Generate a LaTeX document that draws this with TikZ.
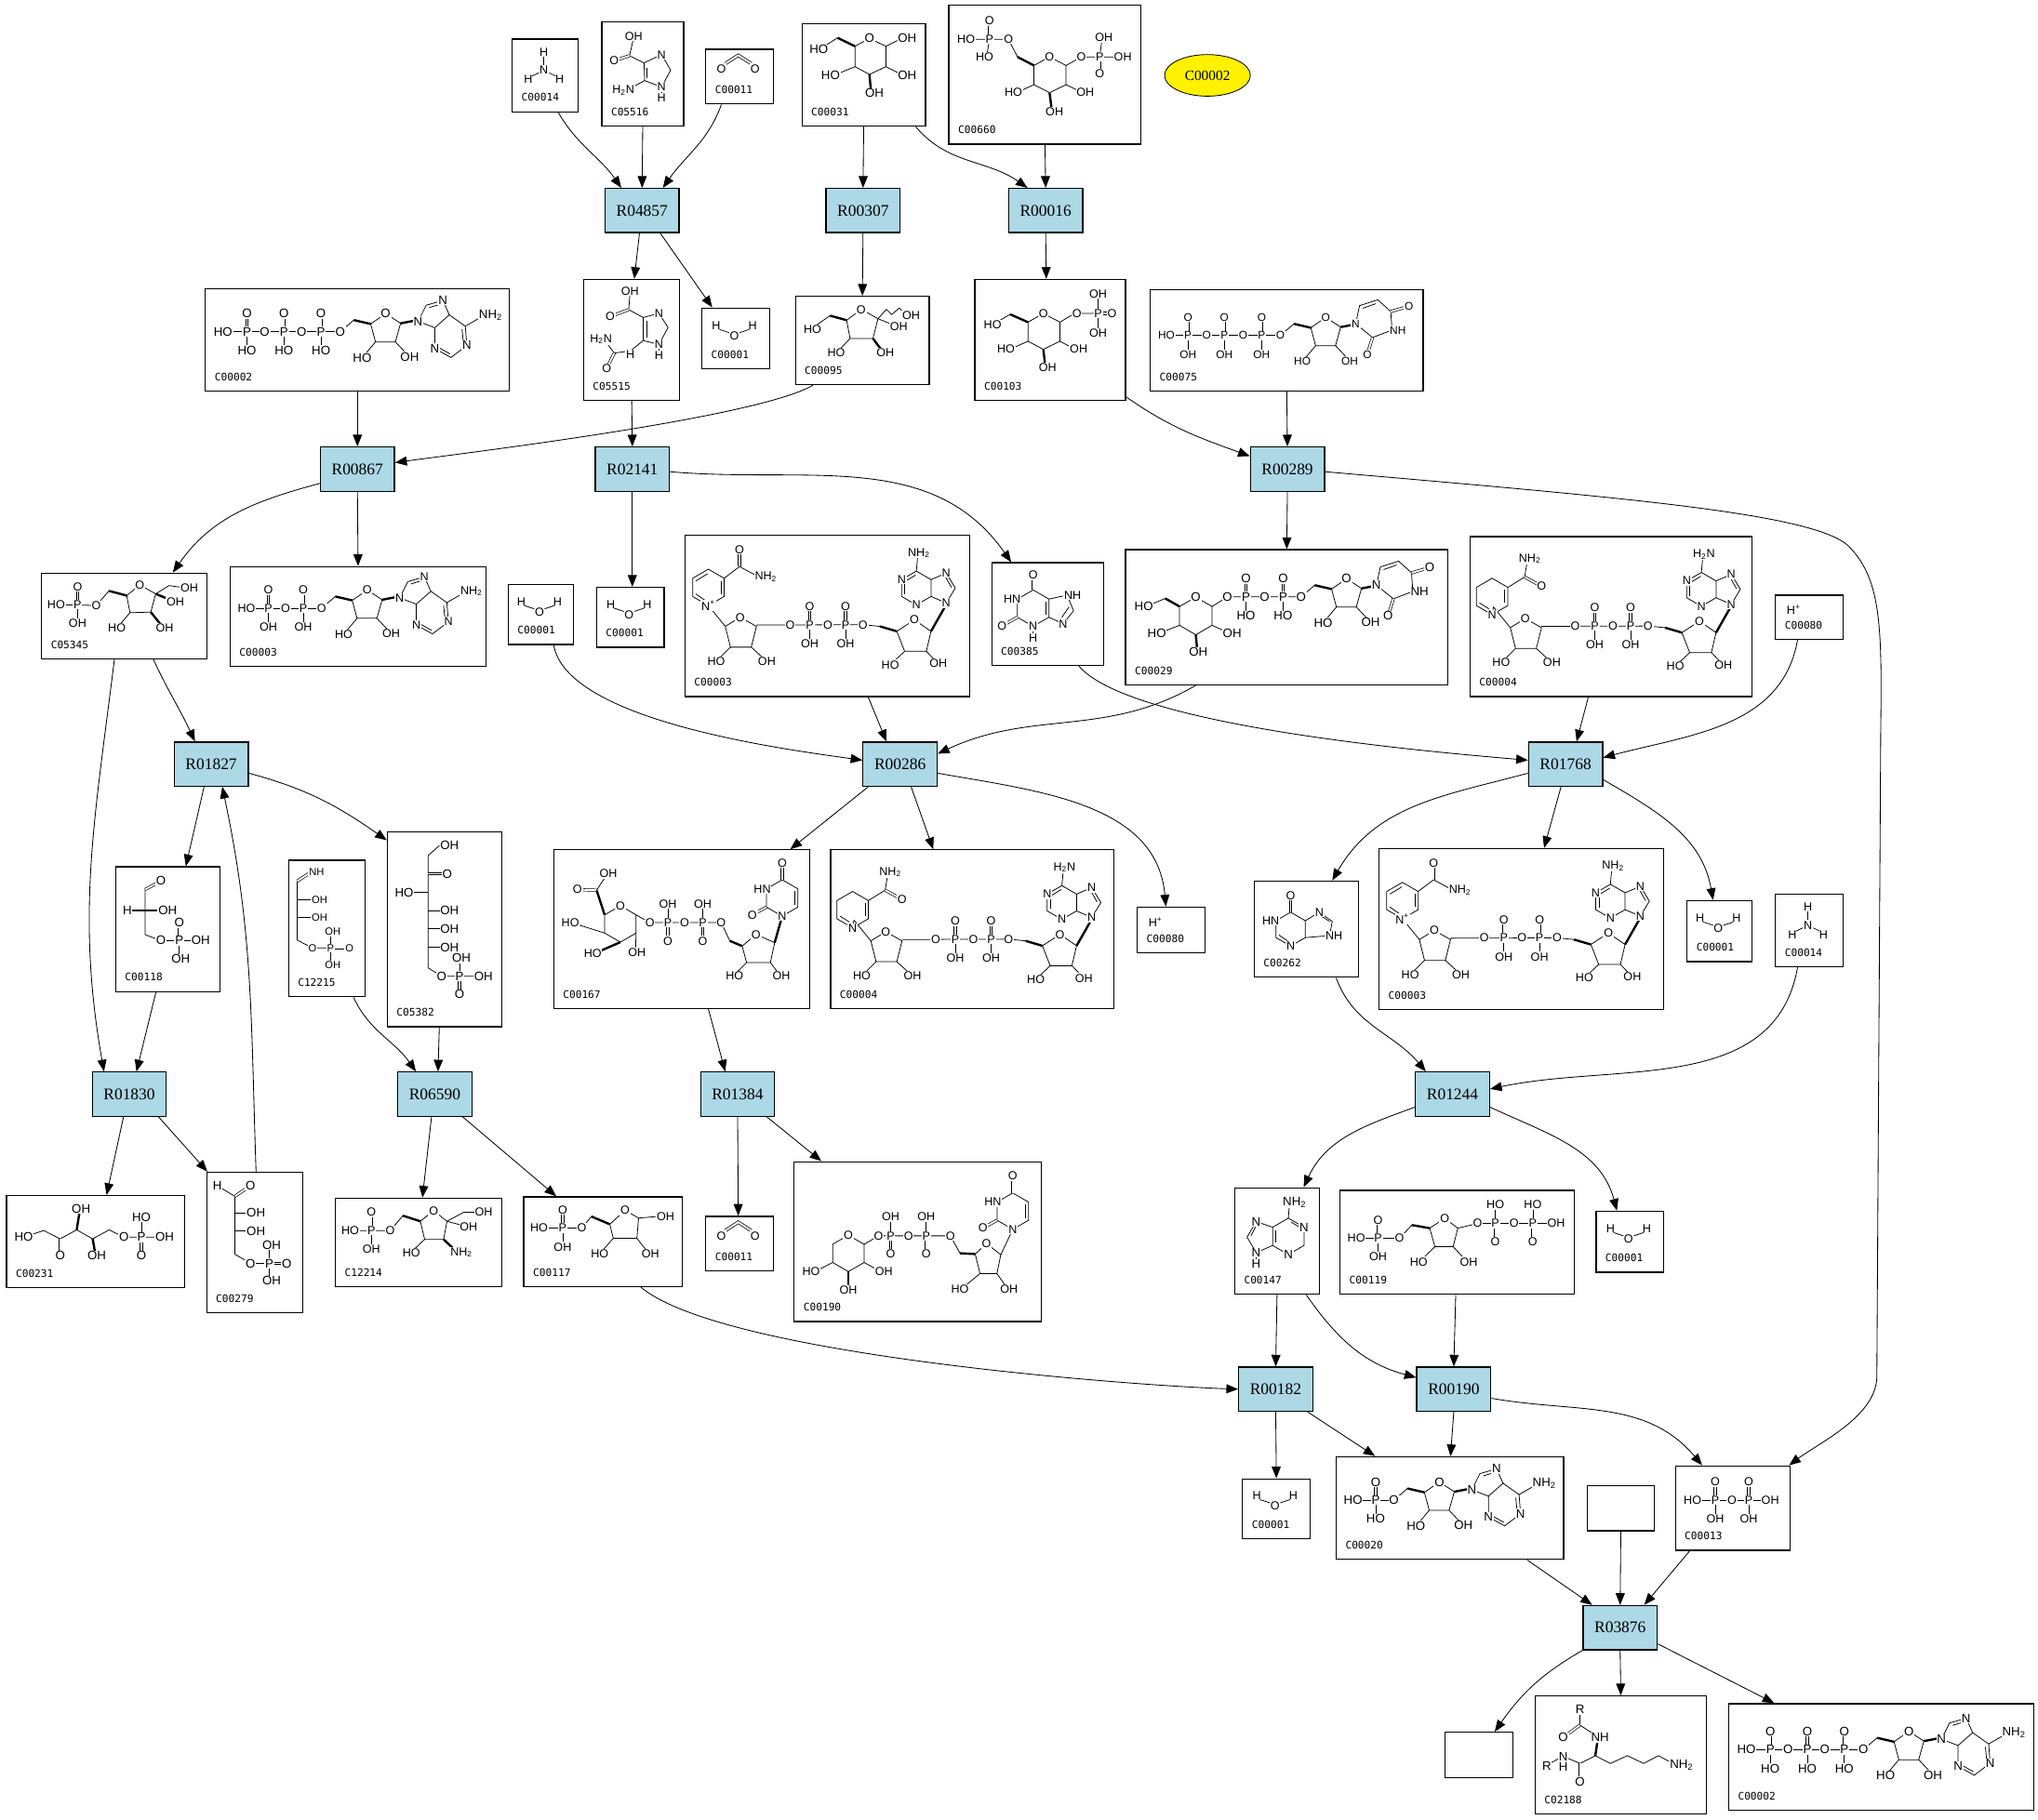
\documentclass[tikz,border=0pt]{standalone}
\usepackage{fontspec}
\setmainfont{Liberation Serif}
\setsansfont{Liberation Sans}
\setmonofont{DejaVu Sans Mono}
\usetikzlibrary{arrows.meta,shapes.geometric}
\definecolor{rxnblue}{RGB}{173,216,230}
\def\atmsz{9}
\newcommand\cpdbox[6]{%
  \node[cpd, minimum width={(#4-#2)*1pt}, minimum height={(#5-#3)*1pt}] (#1) at ({(#2+#4)/2},{-(#3+#5)/2}) {};%
  \node[idl] (#1-id) at ({#2+7},{-#5+8}) {#6};}
\newcommand\emptybox[5]{%
  \node[cpd, minimum width={(#4-#2)*1pt}, minimum height={(#5-#3)*1pt}] (#1) at ({(#2+#4)/2},{-(#3+#5)/2}) {};}
% atom label
\newcommand\At[3]{\node[atm] at (#1,#2) {#3};}
\newcommand\Ae[3]{\node[atm,anchor=east] at (#1,#2) {#3};}
\newcommand\Aw[3]{\node[atm,anchor=west] at (#1,#2) {#3};}
% phosphorus with double-bonded O on top and label below
\newcommand\PT[3]{\draw[dbl] (#1,#2) -- (#1,#2-13); \draw[bond] (#1,#2) -- (#1,#2+13);
  \At{#1}{#2-14}{O}\At{#1}{#2+14.5}{#3}\At{#1}{#2}{P}}
% phosphorus with label on top and double-bonded O below
\newcommand\PB[3]{\draw[bond] (#1,#2) -- (#1,#2-13); \draw[dbl] (#1,#2) -- (#1,#2+13);
  \At{#1}{#2-14.5}{#3}\At{#1}{#2+14}{O}\At{#1}{#2}{P}}
% horizontal ribose, origin = O5'
\newcommand\RiboseH[2]{\begin{scope}[shift={(#1,#2)}]
  \draw[bond] (0,0) -- (10.5,-9);
  \draw[wdg] (10.5,-9) -- (23.5,-6);
  \draw[bond] (23.5,-6) -- (35,-14) -- (46.5,-6.5) -- (42.5,7.8) -- (27.2,7.8) -- cycle;
  \draw[bond] (27.2,7.8) -- (17,20);
  \draw[bond] (42.5,7.8) -- (53.5,19.5);
  \draw[wdg] (46.5,-6.5) -- (57,-8.5);
  \At{35}{-14}{O}\At{17}{20}{HO}\At{53.5}{19.5}{OH}
  \end{scope}}
% horizontal adenine, origin = N9
\newcommand\AdenineH[2]{\begin{scope}[shift={(#1,#2)}]
  \draw[bond] (0,0) -- (6.2,-12.4) -- (19,-16.1) -- (24,-5) -- (12.8,4.9) -- cycle;
  \draw[bond] (8.6,-10.6) -- (17,-13.2);
  \draw[bond] (12.8,4.9) -- (12.8,20.9) -- (25.2,27.8) -- (37.5,18.5) -- (36.3,3.7) -- (24,-5);
  \draw[bond] (15.5,20) -- (24.5,25);
  \draw[bond] (33.8,6) -- (34.8,16.5);
  \draw[bond] (36.3,3.7) -- (48,-3);
  \At{0}{0}{N}\At{19}{-16.1}{N}\At{12.8}{20.9}{N}\At{37.5}{18.5}{N}
  \Aw{46}{-5}{NH\textsubscript{2}}
  \end{scope}}
% horizontal uracil, origin = N1
\newcommand\UracilH[2]{\begin{scope}[shift={(#1,#2)}]
  \draw[bond] (0,0) -- (3,-14) -- (17,-18.5) -- (27,-9.5) -- (28,4.8) -- (13,10.5) -- cycle;
  \draw[bond] (5.5,-12) -- (15.5,-15.5);
  \draw[dbl] (27,-9.5) -- (41,-13.5);
  \draw[dbl] (13,10.5) -- (9,23.5);
  \At{0}{0}{N}\At{41}{-13.5}{O}\Aw{25.5}{4.8}{NH}\At{9}{23.5}{O}
  \end{scope}}
% upright uracil (N1 at bottom), origin = ring centre
\newcommand\UracilV[2]{\begin{scope}[shift={(#1,#2)}]
  \draw[bond] (0,14) -- (-12.1,7) -- (-12.1,-7) -- (0,-14) -- (12.1,-7) -- (12.1,7) -- cycle;
  \draw[bond] (9.6,-5.5) -- (9.6,5.5);
  \draw[dbl] (0,-14) -- (0,-27);
  \draw[dbl] (-12.1,7) -- (-23,13);
  \At{0}{14}{N}\Ae{-8}{-7}{HN}\At{0}{-27}{O}\At{-23}{13}{O}
  \end{scope}}
% upright adenine, origin = 6-ring centre
\newcommand\AdenineV[3]{\begin{scope}[shift={(#1,#2)}]
  \draw[bond] (0,-13) -- (11.3,-6.5) -- (11.3,6.5) -- (0,13) -- (-11.3,6.5) -- (-11.3,-6.5) -- cycle;
  \draw[bond] (11.3,-6.5) -- (23,-11.5) -- (30,0) -- (23,11.5) -- (11.3,6.5);
  \draw[bond] (-8.8,-5) -- (-0.5,-10);
  \draw[bond] (-8.8,5) -- (-8.8,-5);
  \draw[bond] (22.5,-8.5) -- (27,-0.5);
  \draw[bond] (0,-13) -- (1,-24);
  \At{-11.3}{-6.5}{N}\At{0}{13}{N}\At{23}{-11.5}{N}\At{23}{11.5}{N}\At{2}{-27}{#3}
  \end{scope}}
% NAD-type dinucleotide (box-local coordinates)
\newcommand\NADbody{%
  \draw[bond] (18,54) -- (31,70);
  \draw[bond] (31,70) -- (42.5,63) -- (55,70) -- (51,86) -- (35,86) -- cycle;
  \draw[bond] (35,86) -- (24,97); \draw[bond] (51,86) -- (63,97);
  \draw[bond] (55,69) -- (137,68.7);
  \draw[bond] (137,68.7) -- (150,70);
  \draw[wdg] (150,70) -- (163,73.8);
  \draw[bond] (163,73.8) -- (176.5,65) -- (189.3,73.8) -- (185.7,89.2) -- (169,89.2) -- cycle;
  \draw[bond] (169,89.2) -- (158,99.5); \draw[bond] (185.7,89.2) -- (194.9,98.7);
  \draw[wdg] (189.3,73.8) -- (200,55);
  \PT{96}{68.7}{OH}\PT{123.5}{68.7}{OH}
  \At{42.5}{63}{O}\At{24}{97}{HO}\At{63}{97}{OH}
  \At{81}{68.7}{O}\At{110}{68.7}{O}\At{137}{68.7}{O}
  \At{176.5}{65}{O}\At{158}{99.5}{HO}\At{194.9}{98.7}{OH}}
\tikzset{
  rxn/.style={draw, line width=0.9pt, fill=rxnblue, minimum width=57pt, minimum height=34pt, inner sep=0pt, font=\fontsize{12.5}{12.5}\selectfont},
  cpd/.style={draw, line width=0.9pt, inner sep=0pt},
  idl/.style={font=\fontsize{8}{8}\ttfamily, inner sep=0pt, anchor=base west},
  atm/.style={font=\fontsize{\atmsz}{\atmsz}\sffamily, inner sep=0.6pt, fill=white},
  bond/.style={line width=0.55pt},
  dbl/.style={line width=0.5pt, double, double distance=1.3pt},
  wdg/.style={line width=1.7pt},
  arr/.style={-{Triangle[length=9pt,width=7pt]}, line width=0.6pt},
  mol/.style 2 args={shift={(#1,-#2)}, y=-1pt},
  water/.pic={
    \node[atm] at (-14,8) {H};
    \node[atm] at (0,0) {O};
    \node[atm] at (14,8) {H};
    \draw[bond] (-11.5,5) -- (-4,2.5);
    \draw[bond] (4,2.5) -- (11.5,5);
  },
  ammonia/.pic={
    \node[atm] at (0,14) {H};
    \node[atm] at (0,0) {N};
    \node[atm] at (-12,-7) {H};
    \node[atm] at (12,-7) {H};
    \draw[bond] (0,10.5) -- (0,4);
    \draw[bond] (-9,-4.5) -- (-4,-2);
    \draw[bond] (4,-2) -- (9,-4.5);
  },
  cotwo/.pic={
    \draw[bond, double, double distance=1.4pt] (-10,4) -- (0,10.5) -- (10,4);
    \node[atm] at (-13,0) {O};
    \node[atm] at (13,0) {O};
  },
  hplus/.pic={
    \node[atm] at (0,0) {H\textsuperscript{+}};
  }
}
\begin{document}
\begin{tikzpicture}[x=1pt,y=1pt]
\useasboundingbox (0,0) rectangle (1568,-1400);
\fill[white] (0,0) rectangle (1568,-1400);

% ---------- reactions ----------
\node[rxn] (R04857) at (494,-162) {R04857};
\node[rxn] (R00307) at (664,-162) {R00307};
\node[rxn] (R00016) at (804.5,-162) {R00016};
\node[rxn] (R00867) at (275,-361) {R00867};
\node[rxn] (R02141) at (486.5,-361) {R02141};
\node[rxn] (R00289) at (990.5,-361) {R00289};
\node[rxn] (R01827) at (162.5,-588) {R01827};
\node[rxn] (R00286) at (692.5,-588) {R00286};
\node[rxn] (R01768) at (1204.5,-588) {R01768};
\node[rxn] (R01830) at (99.5,-842) {R01830};
\node[rxn] (R06590) at (334.5,-842) {R06590};
\node[rxn] (R01384) at (567.5,-842) {R01384};
\node[rxn] (R01244) at (1117.5,-842) {R01244};
\node[rxn] (R00182) at (981.5,-1069) {R00182};
\node[rxn] (R00190) at (1118.5,-1069) {R00190};
\node[rxn] (R03876) at (1246.5,-1252.5) {R03876};

\node[ellipse, draw, line width=0.6pt, fill=yellow, minimum width=66pt, minimum height=32pt, inner sep=0pt, font=\fontsize{11}{11}\selectfont] (C00002e) at (929,-58) {C00002};

% ---------- compounds ----------
\cpdbox{c14a}{394}{30}{445}{86}{C00014}
\cpdbox{c5516}{463}{17}{526}{97}{C05516}
\cpdbox{c11a}{543}{38}{595}{80}{C00011}
\cpdbox{c31}{617}{18}{712}{97}{C00031}
\cpdbox{c660}{730}{4}{878}{111}{C00660}
\cpdbox{c02a}{158}{222}{392}{301}{C00002}
\cpdbox{c5515}{449}{215}{523}{308}{C05515}
\cpdbox{c01a}{540}{237}{592}{284}{C00001}
\cpdbox{c95}{612}{228}{715}{296}{C00095}
\cpdbox{c103}{750}{215}{866}{308}{C00103}
\cpdbox{c75}{885}{223}{1095}{301}{C00075}
\cpdbox{c5345}{32}{441}{159}{507}{C05345}
\cpdbox{c03a}{177}{436}{374}{513}{C00003}
\cpdbox{c01b}{391}{450}{441}{496}{C00001}
\cpdbox{c01c}{459}{452}{511}{498}{C00001}
\cpdbox{c03b}{527}{412}{746}{536}{C00003}
\cpdbox{c385}{763}{433}{849}{512}{C00385}
\cpdbox{c29}{866}{423}{1114}{527}{C00029}
\cpdbox{c04a}{1131}{413}{1348}{536}{C00004}
\cpdbox{c80a}{1366}{458}{1418}{492}{C00080}
\cpdbox{c118}{89}{667}{169}{763}{C00118}
\cpdbox{c12215}{222}{662}{281}{767}{C12215}
\cpdbox{c5382}{298}{640}{386}{790}{C05382}
\cpdbox{c167}{426}{654}{623}{776}{C00167}
\cpdbox{c04b}{639}{654}{857}{776}{C00004}
\cpdbox{c80b}{875}{698}{927}{733}{C00080}
\cpdbox{c262}{965}{678}{1045}{752}{C00262}
\cpdbox{c03c}{1061}{653}{1280}{777}{C00003}
\cpdbox{c01d}{1298}{693}{1348}{740}{C00001}
\cpdbox{c14b}{1366}{688}{1418}{744}{C00014}
\cpdbox{c231}{5}{920}{142}{991}{C00231}
\cpdbox{c279}{159}{902}{233}{1010}{C00279}
\cpdbox{c12214}{258}{922}{386}{990}{C12214}
\cpdbox{c117}{403}{921}{525}{990}{C00117}
\cpdbox{c11b}{543}{936}{595}{978}{C00011}
\cpdbox{c190}{611}{894}{801}{1017}{C00190}
\cpdbox{c147}{950}{914}{1015}{996}{C00147}
\cpdbox{c119}{1031}{916}{1211}{996}{C00119}
\cpdbox{c01e}{1228}{932}{1280}{979}{C00001}
\cpdbox{c01f}{956}{1138}{1008}{1184}{C00001}
\cpdbox{c20}{1028}{1121}{1203}{1200}{C00020}
\emptybox{emp1}{1221}{1143}{1273}{1178}
\cpdbox{c13}{1289}{1128}{1377}{1193}{C00013}
\emptybox{emp2}{1112}{1333}{1164}{1368}
\cpdbox{c2188}{1181}{1305}{1313}{1396}{C02188}
\cpdbox{c02b}{1330}{1311}{1565}{1393}{C00002}

% ---------- structures ----------
\foreach \w in {c01a,c01b,c01c,c01d,c01e,c01f}{\pic at ([shift={(-1,2)}]\w.center) {water};}
\foreach \w in {c14a,c14b}{\pic at ([shift={(-1,4)}]\w.center) {ammonia};}
\foreach \w in {c11a,c11b}{\pic at ([shift={(-1,6)}]\w.center) {cotwo};}
\foreach \w in {c80a,c80b}{\pic at ([shift={(-12,6)}]\w.center) {hplus};}

% ATP (two copies)
\foreach \bx/\by in {1330/1311, 158/220}{
\begin{scope}[mol={\bx}{\by}]
  \def\atmsz{9.5}
  \draw[bond] (13.6,35.3) -- (103.7,35.3);
  \RiboseH{103.7}{35.3}
  \AdenineH{163.7}{27.3}
  \PT{32}{35.3}{HO}\PT{60.5}{35.3}{HO}\PT{89}{35.3}{HO}
  \At{13.6}{35.3}{HO}\At{45.7}{35.3}{O}\At{74}{35.3}{O}\At{103.7}{35.3}{O}
\end{scope}}
% pyrophosphate C00013
\begin{scope}[mol={1289}{1128}]
  \draw[bond] (13.2,26.3) -- (73,26.3);
  \PT{30.7}{26.3}{OH}\PT{56.4}{26.3}{OH}
  \At{13.2}{26.3}{HO}\At{43.5}{26.3}{O}\At{73}{26.3}{OH}
\end{scope}
% ADP-like C00003 (c03a)
\begin{scope}[mol={177}{436}]
  \draw[bond] (12.6,32) -- (70.5,32);
  \RiboseH{70.5}{32}
  \AdenineH{130.5}{24}
  \PT{29.5}{32}{OH}\PT{56.4}{32}{OH}
  \At{12.6}{32}{HO}\At{42.8}{32}{O}\At{70.5}{32}{O}
\end{scope}
% AMP
\begin{scope}[mol={1028}{1121}]
  \def\atmsz{9.5}
  \draw[bond] (13,33.4) -- (44.4,33.4);
  \RiboseH{44.4}{33.4}
  \AdenineH{104.4}{25.4}
  \PT{30.4}{33.4}{HO}
  \At{13}{33.4}{HO}\At{44.4}{33.4}{O}
\end{scope}
% UTP
\begin{scope}[mol={885}{223}]
  \def\atmsz{8.5}
  \draw[bond] (12.4,35.2) -- (100,35.2);
  \RiboseH{100}{35.2}
  \UracilH{158}{26.2}
  \PT{29}{35.2}{OH}\PT{57}{35.2}{OH}\PT{85.7}{35.2}{OH}
  \At{12.4}{35.2}{HO}\At{43.3}{35.2}{O}\At{71.4}{35.2}{O}\At{100}{35.2}{O}
\end{scope}
% UDP-glucose
\begin{scope}[mol={866}{423}]
  \def\atmsz{9.5}
  \draw[bond] (54,36.5) -- (66.5,43.7) -- (66.5,58.2) -- (54,65.5) -- (41.5,58.2) -- (41.5,43.7) -- cycle;
  \draw[wdg] (41.5,43.7) -- (30.5,37.5); \draw[bond] (30.5,37.5) -- (16,43.6);
  \draw[bond] (41.5,58.2) -- (26,64.2);
  \draw[bond] (66.5,58.2) -- (80,64.2);
  \draw[wdg] (54,65.5) -- (55,76);
  \draw[bond] (66.5,43.7) -- (78.3,36.3) -- (135,36.3);
  \RiboseH{135}{36.3}
  \UracilH{193}{27.3}
  \PT{92.6}{36.3}{HO}\PT{121.2}{36.3}{HO}
  \At{54}{36.5}{O}\At{14}{43.6}{HO}\At{24}{64.2}{HO}\At{82}{64.2}{OH}\At{56}{78.7}{OH}
  \At{78.3}{36.3}{O}\At{107}{36.3}{O}\At{135}{36.3}{O}
\end{scope}
% NAD+ (two copies)
\foreach \bx/\by in {527/412, 1061/653}{
\begin{scope}[mol={\bx}{\by}]
  \draw[bond] (18,26) -- (30.1,33) -- (30.1,47) -- (18,54) -- (5.9,47) -- (5.9,33) -- cycle;
  \draw[bond] (8.3,35) -- (17.5,29.5); \draw[bond] (27.7,35) -- (27.7,45); \draw[bond] (8.3,45) -- (15.5,50);
  \draw[bond] (30.1,33) -- (42,24); \draw[dbl] (42,24) -- (42,11); \draw[bond] (42,24) -- (55,31);
  \NADbody
  \AdenineV{178}{40.5}{NH\textsubscript{2}}
  \At{18}{54}{N\textsuperscript{+}}\At{42}{11}{O}\Aw{53}{32}{NH\textsubscript{2}}
\end{scope}}
% NADH (two copies)
\foreach \bx/\by in {639/654, 1131/413}{
\begin{scope}[mol={\bx}{\by}]
  \draw[bond] (17,32) -- (29.1,39) -- (29.1,53) -- (17,60) -- (4.9,53) -- (4.9,39) -- cycle;
  \draw[bond] (26.7,41) -- (26.7,51); \draw[bond] (7.3,51) -- (14.5,55.5);
  \draw[bond] (29.1,39) -- (42,31); \draw[bond] (42,31) -- (44,19); \draw[dbl] (42,31) -- (53,37);
  \draw[bond] (17,60) -- (18,54);
  \NADbody
  \AdenineV{178}{40.5}{H\textsubscript{2}N}
  \At{17}{60}{N}\At{46}{17}{NH\textsubscript{2}}\At{55}{38}{O}
\end{scope}}
% C00031 glucose
\begin{scope}[mol={617}{18}]
  \def\atmsz{9.5}
  \draw[bond] (40.8,17.6) -- (51.9,11.6) -- (64.6,17.6) -- (64.6,33.3) -- (51.9,39.3) -- (40.8,33.3) -- cycle;
  \draw[wdg] (40.8,17.6) -- (27.4,11.1); \draw[bond] (27.4,11.1) -- (15,19);
  \draw[bond] (64.6,17.6) -- (76,12); \draw[bond] (64.6,33.3) -- (76,39);
  \draw[wdg] (51.9,39.3) -- (53,51); \draw[bond] (40.8,33.3) -- (27,39);
  \At{51.9}{11.6}{O}\At{13}{20}{HO}\At{81}{11.6}{OH}\At{81}{39.7}{OH}\At{55.7}{53.7}{OH}\At{22}{39.7}{HO}
\end{scope}
% C00660
\begin{scope}[mol={730}{4}]
  \draw[bond] (13.3,26.2) -- (45.9,26.2) -- (52.8,39.8);
  \draw[dbl] (31.3,26.2) -- (31.3,11.9); \draw[bond] (31.3,26.2) -- (29,40);
  \draw[wdg] (52.8,39.8) -- (65.5,46.4);
  \draw[bond] (65.5,46.4) -- (77.5,39.8) -- (90.2,46.4) -- (90.2,61.2) -- (77.5,67.3) -- (65.5,61.2) -- cycle;
  \draw[bond] (90.2,46.4) -- (102,39.8) -- (133.9,39.8); \draw[bond] (116.1,39.8) -- (118,25); \draw[dbl] (116.1,39.8) -- (116.1,52.9);
  \draw[bond] (90.2,61.2) -- (103,67.3); \draw[wdg] (77.5,67.3) -- (79,79); \draw[bond] (65.5,61.2) -- (52,67.3);
  \At{13.3}{26.2}{HO}\At{31.3}{26.2}{P}\At{31.3}{11.9}{O}\At{27.5}{40}{HO}\At{45.9}{26.2}{O}
  \At{77.5}{39.8}{O}\At{102}{39.8}{O}\At{116.1}{39.8}{P}\At{119.3}{25}{OH}\At{133.9}{39.8}{OH}\At{116.1}{52.9}{O}
  \At{105}{67.3}{OH}\At{81.3}{82}{OH}\At{49.7}{67.3}{HO}
\end{scope}
% C00103
\begin{scope}[mol={750}{215}]
  \draw[bond] (40.9,32.9) -- (52.7,26.2) -- (65.5,32.9) -- (65.5,47.6) -- (52.7,53.8) -- (40.9,47.6) -- cycle;
  \draw[wdg] (40.9,32.9) -- (27.2,26.9); \draw[bond] (27.2,26.9) -- (15,34);
  \draw[bond] (65.5,32.9) -- (76.7,26.2) -- (94.9,26.2); \draw[dbl] (94.9,26.2) -- (104.5,26.2);
  \draw[bond] (94.9,11) -- (94.9,41.2);
  \draw[bond] (65.5,47.6) -- (77,53.8); \draw[wdg] (52.7,53.8) -- (54,65); \draw[bond] (40.9,47.6) -- (27,53.8);
  \At{52.7}{26.2}{O}\At{13.7}{35.2}{HO}\At{78.5}{26.2}{O}\At{94.9}{26.2}{P}\At{105.5}{26.2}{O}\At{94.9}{11}{OH}\At{94.9}{41.2}{OH}
  \At{79.9}{53.8}{OH}\At{56}{68.1}{OH}\At{24}{53.8}{HO}
\end{scope}
% C00095
\begin{scope}[mol={612}{228}]
  \draw[bond] (39.4,18.4) -- (50.6,10.1) -- (63.5,17.2) -- (59.6,32.5) -- (42,32.5) -- cycle;
  \draw[wdg] (39.4,18.4) -- (26.6,14.9); \draw[bond] (26.6,14.9) -- (15,23);
  \draw[bond] (63.5,17.2) -- (75,22); \draw[bond] (63.5,17.2) -- (70,10) -- (74,14) -- (80,9) -- (84,14);
  \draw[wdg] (59.6,32.5) -- (66,41); \draw[bond] (42,32.5) -- (34,41);
  \At{50.6}{10.1}{O}\At{13.1}{25.5}{HO}\At{79.5}{23.6}{OH}\At{89}{14.9}{OH}\At{69.2}{43.6}{OH}\At{31.4}{43.6}{HO}
\end{scope}
% C05345
\begin{scope}[mol={32}{441}]
  \draw[bond] (11.2,24.4) -- (42.1,24.9) -- (51.8,13.7);
  \draw[wdg] (51.8,13.7) -- (65.5,17.3);
  \draw[bond] (65.5,17.3) -- (75.6,9.1) -- (87.8,16) -- (84,30) -- (68,30.5) -- cycle;
  \draw[bond] (68,30.5) -- (59,41); \draw[wdg] (84,30) -- (92,40); \draw[wdg] (87.8,16) -- (100,21);
  \draw[bond] (87.8,16) -- (98,9.6) -- (108,11);
  \PT{27.7}{24.4}{OH}
  \At{11.2}{24.4}{HO}\At{42.1}{24.9}{O}\At{75.6}{9.1}{O}\At{57.9}{42.3}{HO}\At{94.7}{42.3}{OH}\At{103}{22.3}{OH}\At{113.7}{11.7}{OH}
\end{scope}
% C12214
\begin{scope}[mol={258}{922}]
  \draw[bond] (11.5,24.9) -- (42.3,24.9) -- (52,13.5);
  \draw[wdg] (52,13.5) -- (65.4,17.8);
  \draw[bond] (65.4,17.8) -- (75.6,9.6) -- (85.9,17.8) -- (83.3,31.7) -- (68.7,31.7) -- cycle;
  \draw[bond] (68.7,31.7) -- (60,40); \draw[wdg] (83.3,31.7) -- (92,40);
  \draw[bond] (85.9,17.8) -- (98,21); \draw[bond] (85.9,17.8) -- (98.7,10.9) -- (108,10.9);
  \PT{27.7}{24.9}{OH}
  \At{11.5}{24.9}{HO}\At{42.3}{24.9}{O}\At{75.6}{9.6}{O}\At{58.5}{41.9}{HO}\At{97}{41.9}{NH\textsubscript{2}}\At{102.6}{22.3}{OH}\At{114.1}{10.9}{OH}
\end{scope}
% C00117
\begin{scope}[mol={403}{921}]
  \draw[bond] (11.7,24) -- (44.7,24) -- (52,15.1);
  \draw[wdg] (52,15.1) -- (66.2,21.1);
  \draw[bond] (66.2,21.1) -- (77.9,10.3) -- (88.3,16.3) -- (87,31.9) -- (68.8,31.9) -- cycle;
  \draw[bond] (68.8,31.9) -- (60,42); \draw[bond] (87,31.9) -- (95,42); \draw[bond] (88.3,16.3) -- (103,15.1);
  \PT{29.9}{24}{OH}
  \At{11.7}{24}{HO}\At{44.7}{24}{O}\At{77.9}{10.3}{O}\At{58.4}{43.9}{HO}\At{97.4}{43.9}{OH}\At{109}{15.1}{OH}
\end{scope}
% C00119 PRPP
\begin{scope}[mol={1031}{916}]
  \draw[bond] (12.5,36.8) -- (45.7,36.8) -- (55.3,26.7);
  \draw[wdg] (55.3,26.7) -- (69,29.1);
  \draw[bond] (69,29.1) -- (80.5,21.5) -- (90.6,29.1) -- (87,43.4) -- (73,43.4) -- cycle;
  \draw[bond] (73,43.4) -- (63,53); \draw[bond] (87,43.4) -- (96,53);
  \draw[bond] (90.6,29.1) -- (105.8,25.5) -- (166.3,25.5);
  \PT{29.3}{36.8}{OH}\PB{119.5}{25.5}{HO}\PB{148.3}{25.5}{HO}
  \At{12.5}{36.8}{HO}\At{45.7}{36.8}{O}\At{80.5}{21.5}{O}\At{60.6}{54.9}{HO}\At{99}{54.9}{OH}
  \At{105.8}{25.5}{O}\At{133.9}{25.5}{O}\At{166.3}{25.5}{OH}
\end{scope}
% C00190 UDP-xylose
\begin{scope}[mol={611}{894}]
  \draw[bond] (41.7,56.5) -- (53.8,63.5) -- (53.8,77.5) -- (41.7,84.5) -- (29.6,77.5) -- (29.6,63.5) -- cycle;
  \draw[bond] (29.6,77.5) -- (17,84); \draw[bond] (53.8,77.5) -- (66,84); \draw[wdg] (41.7,84.5) -- (41.7,95);
  \draw[bond] (53.8,63.5) -- (65,57) -- (120.3,57) -- (127.6,70.4);
  \draw[wdg] (127.6,70.4) -- (139.3,71);
  \draw[bond] (139.3,71) -- (148,63) -- (159,71.5) -- (156,86) -- (143,86) -- cycle;
  \draw[bond] (143,86) -- (131,96); \draw[bond] (156,86) -- (163,96);
  \draw[bond] (159,71.5) -- (168.2,52);
  \PB{74.2}{57}{OH}\PB{101.6}{57}{OH}
  \UracilV{168.2}{38}
  \At{41.7}{56.5}{O}\At{13}{84.1}{HO}\At{69}{84.1}{OH}\At{41.7}{99}{OH}
  \At{65}{57}{O}\At{88}{57}{O}\At{120.3}{57}{O}\At{148}{63}{O}\At{127.6}{97.8}{HO}\At{165.4}{97.8}{OH}
\end{scope}
% C00167 UDP-glucuronate
\begin{scope}[mol={426}{654}]
  \draw[bond] (51.3,43) -- (63.4,50) -- (63.4,64) -- (51.3,71) -- (39.2,64) -- (39.2,50) -- cycle;
  \draw[wdg] (39.2,50) -- (33,31); \draw[dbl] (33,31) -- (18.3,30.6); \draw[bond] (33,31) -- (41,19);
  \draw[bond] (39.2,64) -- (17,57); \draw[wdg] (51.3,71) -- (33,79); \draw[bond] (63.4,64) -- (63,76);
  \draw[bond] (63.4,50) -- (74,56) -- (128.9,56) -- (135.5,70);
  \draw[wdg] (135.5,70) -- (145,74);
  \draw[bond] (145,74) -- (155.7,65) -- (170,71.4) -- (166.7,86.7) -- (148.4,86.7) -- cycle;
  \draw[bond] (148.4,86.7) -- (140,95); \draw[bond] (166.7,86.7) -- (173,95);
  \draw[wdg] (170,71.4) -- (175.8,51);
  \PB{87.9}{56}{OH}\PB{114.7}{56}{OH}
  \UracilV{175.8}{37}
  \At{51.3}{43}{O}\At{18.3}{30.6}{O}\At{42.1}{18.4}{OH}\At{12.8}{56}{HO}\At{30}{80}{HO}\At{64}{79}{OH}
  \At{74}{56}{O}\At{100.7}{56}{O}\At{128.9}{56}{O}\At{155.7}{65}{O}\At{139.2}{97}{HO}\At{175.2}{97}{OH}
\end{scope}
% C00118
\begin{scope}[mol={89}{667}]
  \def\atmsz{9.5}
  \draw[dbl] (22.6,17.5) -- (34.9,11);
  \draw[bond] (22.6,17.5) -- (22.6,52.2) -- (34.9,56.8) -- (65.4,56.8);
  \draw[wdg] (22.6,33.7) -- (10,33.7); \draw[wdg] (22.6,33.7) -- (35,33.7);
  \draw[dbl] (48.9,56.8) -- (48.9,43.2); \draw[bond] (48.9,56.8) -- (48.9,71);
  \At{34.9}{11}{O}\At{8.9}{33.7}{H}\At{40}{33.7}{OH}\At{34.9}{56.8}{O}\At{48.9}{56.8}{P}\At{48.9}{43.2}{O}\At{65.4}{56.8}{OH}\At{50}{71}{OH}
\end{scope}
% C12215
\begin{scope}[mol={222}{662}]
  \def\atmsz{8}
  \draw[dbl] (6.6,16.1) -- (17,9.2);
  \draw[bond] (6.6,16.1) -- (6.6,61.4) -- (18.5,67.5) -- (32.3,67.5);
  \draw[bond] (6.6,30.2) -- (18,30.2); \draw[bond] (6.6,44) -- (18,44);
  \draw[bond] (32.3,55) -- (32.3,80.8); \draw[dbl] (32.3,67.5) -- (46.8,67.5);
  \Aw{15}{9.2}{NH}\Aw{17}{30.2}{OH}\Aw{17}{44}{OH}\At{18.5}{67.5}{O}\At{32.3}{67.5}{P}\At{34}{55}{OH}\At{46.8}{67.5}{O}\At{34}{80.8}{OH}
\end{scope}
% C05382
\begin{scope}[mol={298}{640}]
  \def\atmsz{9.5}
  \draw[bond] (31.4,18.3) -- (40,10.7); \draw[bond] (31.4,18.3) -- (31.4,104.8) -- (41.7,111.2) -- (74,111.2);
  \draw[dbl] (31.4,32.3) -- (44.5,32.3); \draw[bond] (31.4,46.8) -- (13,46.8);
  \draw[bond] (31.4,60.8) -- (42,60.8); \draw[bond] (31.4,74.8) -- (42,74.8); \draw[bond] (31.4,89) -- (42,89);
  \draw[bond] (55.5,111.2) -- (55.5,97.2); \draw[dbl] (55.5,111.2) -- (55.5,125.2);
  \Aw{40}{10.7}{OH}\At{46}{32.3}{O}\At{13}{46.8}{HO}\Aw{40}{60.8}{OH}\Aw{40}{74.8}{OH}\Aw{40}{89}{OH}
  \At{41.7}{111.2}{O}\At{55.5}{111.2}{P}\At{57}{97.2}{OH}\At{74}{111.2}{OH}\At{55.5}{125.2}{O}
\end{scope}
% C00231
\begin{scope}[mol={5}{920}]
  \def\atmsz{9.5}
  \draw[bond] (13.3,32) -- (28.6,26.9) -- (41.3,33.3) -- (54,26.4) -- (66.3,33.3) -- (79,26.4) -- (90.3,32) -- (121.7,32);
  \draw[dbl] (41.3,33.3) -- (41.3,46.2); \draw[wdg] (54,26.4) -- (56,14); \draw[wdg] (66.3,33.3) -- (68,43);
  \draw[bond] (103.8,32) -- (103.8,16.7); \draw[dbl] (103.8,32) -- (103.8,46.2);
  \At{13.3}{32}{HO}\At{41.3}{46.2}{O}\At{57.4}{10.3}{OH}\At{69.4}{46.2}{OH}\At{90.3}{32}{O}\At{103.8}{32}{P}\At{103.8}{16.7}{HO}\At{121.7}{32}{OH}\At{103.8}{46.2}{O}
\end{scope}
% C00279
\begin{scope}[mol={159}{902}]
  \def\atmsz{9.5}
  \draw[bond] (8.2,10.4) -- (21.7,18.6); \draw[dbl] (21.7,18.6) -- (33.7,10.4);
  \draw[bond] (21.7,18.6) -- (21.7,63.1) -- (33.7,70.2) -- (48.2,70.2);
  \draw[bond] (21.7,31.3) -- (32,31.3); \draw[bond] (21.7,45.3) -- (32,45.3);
  \draw[bond] (48.2,56) -- (48.2,83.5); \draw[dbl] (48.2,70.2) -- (61.7,70.2);
  \At{8.2}{10.4}{H}\At{33.7}{10.4}{O}\Aw{30}{31.3}{OH}\Aw{30}{45.3}{OH}\At{33.7}{70.2}{O}\At{48.2}{70.2}{P}\At{50}{56}{OH}\At{61.7}{70.2}{O}\At{50}{83.5}{OH}
\end{scope}
% C02188
\begin{scope}[mol={1181}{1305}]
  \def\atmsz{9.5}
  \draw[bond] (34.6,10.6) -- (34.6,22.5) -- (48.9,31.9); \draw[dbl] (34.6,22.5) -- (21.7,31.9);
  \draw[wdg] (46.4,46.1) -- (48,35);
  \draw[bond] (46.4,46.1) -- (34.6,52) -- (21.7,46.5) -- (9.4,53); \draw[dbl] (34.6,52) -- (34.6,66.2);
  \draw[bond] (46.4,46.1) -- (58,52) -- (71,46) -- (83.5,52) -- (95,46) -- (106,52);
  \At{34.6}{10.6}{R}\At{21.7}{31.9}{O}\At{50}{31.9}{NH}\At{21.7}{46.5}{N}\At{21.7}{54.5}{H}\At{9}{54}{R}\At{34.6}{66.2}{O}\Aw{103}{53}{NH\textsubscript{2}}
\end{scope}
% C05516
\begin{scope}[mol={463}{17}]
  \draw[bond] (32.5,31.4) -- (46,25) -- (53,37) -- (46,50) -- (33,45) -- cycle;
  \draw[bond] (35,35) -- (35,43);
  \draw[bond] (32.5,31.4) -- (21.3,25.9) -- (24.5,12); \draw[dbl] (21.3,25.9) -- (9.5,29.7);
  \draw[bond] (33,45) -- (22,51); \draw[bond] (46,50) -- (46,56);
  \At{24.5}{10.7}{OH}\At{9.5}{29.7}{O}\At{46}{25}{N}\At{46}{50}{N}\At{46}{58}{H}\At{16.6}{52.7}{H\textsubscript{2}N}
\end{scope}
% C05515
\begin{scope}[mol={449}{215}]
  \draw[bond] (45.9,29.3) -- (58,26.2) -- (65,37) -- (58,50) -- (45.9,47.1) -- cycle;
  \draw[bond] (48.5,32) -- (48.5,44.5);
  \draw[bond] (45.9,29.3) -- (34.7,23.3) -- (35.7,11); \draw[dbl] (34.7,23.3) -- (20.4,28.6);
  \draw[bond] (45.9,47.1) -- (36,55) -- (23.6,56.7) -- (17,48); \draw[dbl] (23.6,56.7) -- (17.8,68.6);
  \draw[bond] (58,50) -- (58,56);
  \At{35.7}{9}{OH}\At{20.4}{28.6}{O}\At{58}{26.2}{N}\At{58}{50}{N}\At{58}{58.5}{H}\At{36}{58}{H}\At{13.4}{46}{H\textsubscript{2}N}\At{17.8}{68.6}{O}
\end{scope}
% C00385 xanthine
\begin{scope}[mol={763}{433}]
  \draw[bond] (31.9,21) -- (44,28) -- (44,42) -- (31.9,49) -- (19.8,42) -- (19.8,28) -- cycle;
  \draw[bond] (44,28) -- (58,25) -- (63,37) -- (55,47) -- (44,42);
  \draw[bond] (41.5,30) -- (41.5,40); \draw[bond] (59.5,34) -- (54,42);
  \draw[dbl] (31.9,21) -- (31.9,9.5); \draw[dbl] (19.8,42) -- (9,48);
  \draw[bond] (31.9,49) -- (31.9,56);
  \Ae{23}{28}{HN}\At{31.9}{9.5}{O}\At{8}{49}{O}\At{31.9}{49}{N}\At{31.9}{58}{H}\Aw{55}{25}{NH}\At{55}{47}{N}
\end{scope}
% C00262 hypoxanthine
\begin{scope}[mol={965}{678}]
  \draw[bond] (28,24) -- (39.3,30.5) -- (39.3,43.5) -- (28,50) -- (16.7,43.5) -- (16.7,30.5) -- cycle;
  \draw[bond] (39.3,30.5) -- (50,24) -- (60,31) -- (58,42) -- (39.3,43.5);
  \draw[bond] (19,41.5) -- (25.5,46); \draw[bond] (51.5,27) -- (58,31);
  \draw[dbl] (28,24) -- (28,11);
  \Ae{20}{30.5}{HN}\At{28}{11}{O}\At{28}{50}{N}\At{50}{24}{N}\Aw{54}{42}{NH}
\end{scope}
% C00147 adenine
\begin{scope}[mol={950}{914}]
  \def\atmsz{9.5}
  \draw[bond] (41.2,23.4) -- (53.3,30.4) -- (53.3,44.4) -- (41.2,51.4) -- (29.1,44.4) -- (29.1,30.4) -- cycle;
  \draw[bond] (29.1,30.4) -- (16.5,26) -- (9.5,38) -- (16.5,50) -- (29.1,44.4);
  \draw[bond] (43.5,26.5) -- (50.8,31); \draw[bond] (31.5,33) -- (31.5,42); \draw[bond] (12.5,37) -- (16,30);
  \draw[bond] (41.2,23.4) -- (42,14); \draw[bond] (16.5,50) -- (16.5,56);
  \At{53.3}{30.4}{N}\At{41.2}{51.4}{N}\At{16.5}{26}{N}\At{16.5}{50}{N}\At{16.5}{58.5}{H}\At{46}{11}{NH\textsubscript{2}}
\end{scope}

% ---------- edges ----------
\draw[arr] ([xshift=10]c14a.south) to[out=-60,in=125] ([xshift=-16]R04857.north);
\draw[arr] (c5516.south) -- (R04857.north);
\draw[arr] ([xshift=-14]c11a.south) to[out=-110,in=55] ([xshift=16]R04857.north);
\draw[arr] (c31.south) -- (R00307.north);
\draw[arr] ([xshift=40]c31.south) to[out=-50,in=145] ([xshift=-14]R00016.north);
\draw[arr] (c660.south) -- (R00016.north);
\draw[arr] ([xshift=-2]R04857.south) -- ([xshift=2]c5515.north);
\draw[arr] ([xshift=14]R04857.south) -- ([xshift=-18]c01a.north);
\draw[arr] (R00307.south) -- (c95.north);
\draw[arr] (R00016.south) -- ([xshift=-3]c103.north);
\draw[arr] (c02a.south) -- (R00867.north);
\draw[arr] (c5515.south) -- (R02141.north);
\draw[arr] ([xshift=-38]c95.south) to[out=-150,in=8,looseness=0.4] ([yshift=5]R00867.east);
\draw[arr] ([yshift=3]c103.south east) to[out=-35,in=160] ([yshift=10]R00289.west);
\draw[arr] (c75.south) -- (R00289.north);
\draw[arr] ([yshift=-11]R00867.west) to[out=-165,in=55] ([xshift=37.5]c5345.north);
\draw[arr] (R00867.south) -- (c03a.north);
\draw[arr] (R02141.south) -- ([xshift=1.5]c01c.north);
\draw[arr] ([yshift=-2]R02141.east) to[out=-5,in=125] ([xshift=-28]c385.north);
\draw[arr] (R00289.south) -- (c29.north);
\draw[arr] ([yshift=-2]R00289.east) .. controls (1250,-383) and (1395,-395) .. (1422,-420)
   .. controls (1447,-445) and (1448,-480) .. (1447,-560) -- (1444,-1060)
   .. controls (1443,-1090) and (1400,-1110) .. ([xshift=-1]c13.north east);
\draw[arr] ([xshift=22.5]c5345.south) to[out=-65,in=115] ([xshift=-12.5]R01827.north);
\draw[arr] ([xshift=-7.5]c5345.south) to[out=-97,in=100] ([xshift=-19.5]R01830.north);
\draw[arr] ([xshift=10]c01b.south) to[out=-80,in=172,looseness=0.6] ([yshift=3]R00286.west);
\draw[arr] ([xshift=31.5]c03b.south) -- ([xshift=-10.5]R00286.north);
\draw[arr] ([xshift=-70]c29.south) to[out=-150,in=25] ([yshift=8]R00286.east);
\draw[arr] ([xshift=24]c385.south) to[out=-50,in=175,looseness=0.45] ([yshift=3]R01768.west);
\draw[arr] ([xshift=-17.5]c04a.south) -- ([xshift=8.5]R01768.north);
\draw[arr] ([xshift=-9]c80a.south) to[out=-100,in=15] ([yshift=5]R01768.east);
\draw[arr] ([xshift=-5.5]R01827.south) -- ([xshift=14]c118.north);
\draw[arr] ([yshift=-7]R01827.east) to[out=-15,in=145] ([yshift=-7]c5382.north west);
\draw[arr] ([xshift=1]c279.north) to[out=92,in=-78] ([xshift=8.5]R01827.south);
\draw[arr] ([xshift=-9]c118.south) -- ([xshift=5.5]R01830.north);
\draw[arr] ([xshift=-4.5]R01830.south) -- ([xshift=8.5]c231.north);
\draw[arr] ([xshift=22.5]R01830.south) -- ([xshift=1]c279.north west);
\draw[arr] ([xshift=20.5]c12215.south) to[out=-65,in=125] ([xshift=-14.5]R06590.north);
\draw[arr] ([xshift=-4]c5382.south) -- ([xshift=2.5]R06590.north);
\draw[arr] ([xshift=-2.5]R06590.south) -- ([xshift=3]c12214.north);
\draw[arr] ([xshift=21.5]R06590.south) -- ([xshift=-36]c117.north);
\draw[arr] ([xshift=-24.5]R00286.south) -- ([xshift=83.5]c167.north);
\draw[arr] ([xshift=8.5]R00286.south) -- ([xshift=-30]c04b.north);
\draw[arr] ([yshift=-7]R00286.east) to[out=-10,in=95] ([xshift=-4]c80b.north);
\draw[arr] ([yshift=-7]R01768.west) to[out=-165,in=60] ([xshift=20]c262.north);
\draw[arr] ([xshift=-3.5]R01768.south) -- ([xshift=17.5]c03c.north);
\draw[arr] ([yshift=-12]R01768.east) to[out=-30,in=100] ([xshift=-5]c01d.north);
\draw[arr] ([xshift=20.5]c167.south) -- ([xshift=-9.5]R01384.north);
\draw[arr] (R01384.south) -- ([xshift=-1]c11b.north);
\draw[arr] ([xshift=22.5]R01384.south) -- ([xshift=-74]c190.north);
\draw[arr] ([xshift=23]c262.south) to[out=-70,in=130] ([xshift=-20.5]R01244.north);
\draw[arr] ([xshift=-9]c14b.south) to[out=-100,in=12] ([yshift=4]R01244.east);
\draw[arr] ([yshift=-10]R01244.west) to[out=-160,in=65] ([xshift=20.5]c147.north);
\draw[arr] ([yshift=-10]R01244.east) to[out=-25,in=105] ([xshift=-10]c01e.north);
\draw[arr] ([xshift=29]c117.south) to[out=-40,in=178,looseness=0.45] (R00182.west);
\draw[arr] (c147.south) -- (R00182.north);
\draw[arr] ([xshift=22.5]c147.south) to[out=-55,in=165] ([yshift=9]R00190.west);
\draw[arr] ([xshift=-1]c119.south) -- (R00190.north);
\draw[arr] (R00182.south) -- (c01f.north);
\draw[arr] ([xshift=24.5]R00182.south) -- ([xshift=-57.5]c20.north);
\draw[arr] (R00190.south) -- ([xshift=0.5]c20.north);
\draw[arr] ([yshift=-7]R00190.east) to[out=-10,in=130] ([xshift=21]c13.north west);
\draw[arr] ([xshift=59.5]c20.south) -- ([xshift=-21.5]R03876.north);
\draw[arr] (emp1.south) -- (R03876.north);
\draw[arr] ([xshift=-33]c13.south) -- ([xshift=18.5]R03876.north);
\draw[arr] (R03876.south west) to[out=-150,in=55] ([xshift=12]emp2.north);
\draw[arr] (R03876.south) -- (c2188.north);
\draw[arr] ([yshift=-12.5]R03876.east) -- ([xshift=-82.5]c02b.north);
\end{tikzpicture}
\end{document}
